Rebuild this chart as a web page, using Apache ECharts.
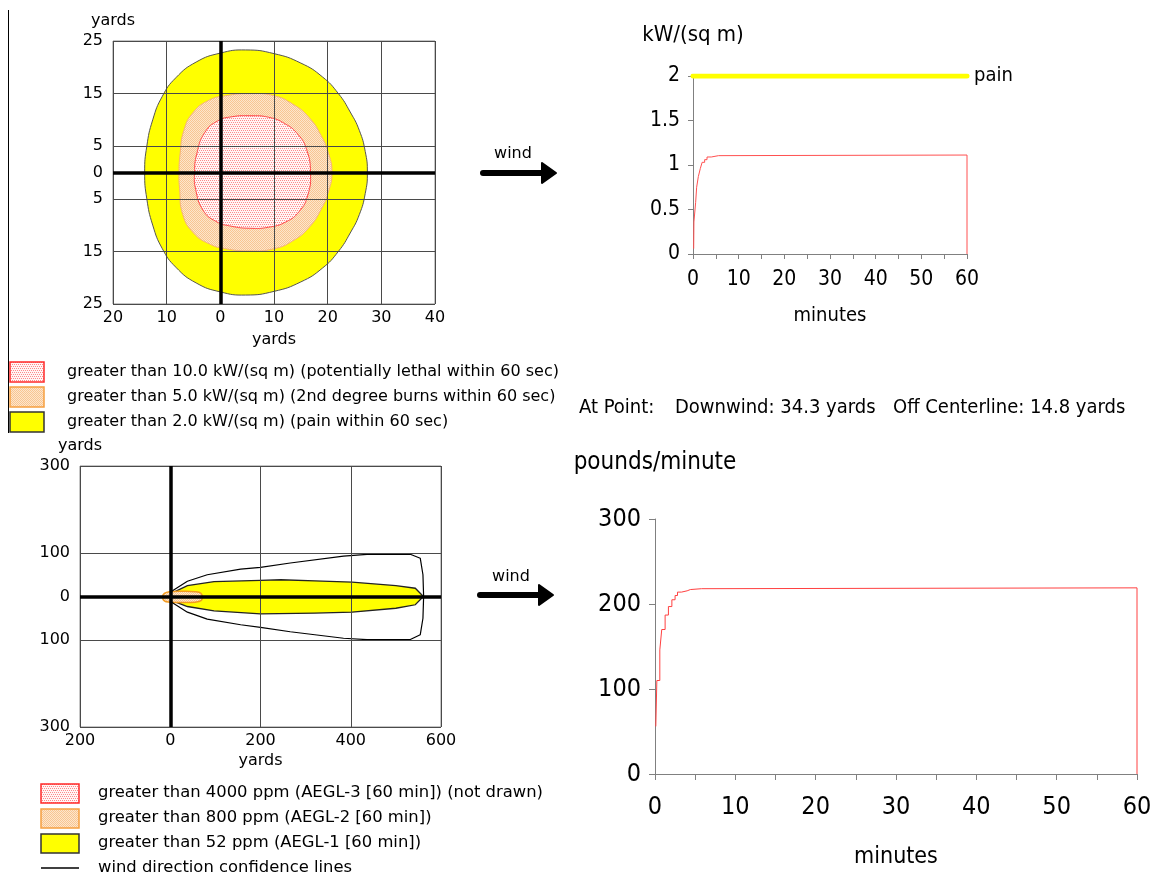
<!DOCTYPE html>
<html><head><meta charset="utf-8">
<script src="https://cdn.jsdelivr.net/npm/echarts@6/dist/echarts.min.js"></script>
<style>html,body{margin:0;padding:0;background:#fff}#main{width:1153px;height:876px}</style>
</head><body><div id="main"></div>
<script>
// ---------------- data ----------------
const thermalLegend = [
  'greater than 10.0 kW/(sq m) (potentially lethal within 60 sec)',
  'greater than 5.0 kW/(sq m) (2nd degree burns within 60 sec)',
  'greater than 2.0 kW/(sq m) (pain within 60 sec)'
];
const toxicLegend = [
  'greater than 4000 ppm (AEGL-3 [60 min]) (not drawn)',
  'greater than 800 ppm (AEGL-2 [60 min])',
  'greater than 52 ppm (AEGL-1 [60 min])',
  'wind direction confidence lines'
];
const pointLabelParts = ['At Point:', 'Downwind: 34.3 yards', 'Off Centerline: 14.8 yards'];

const thermalXTicks = [-20, -10, 0, 10, 20, 30, 40];
const thermalYTicks = [-25, -15, -5, 0, 5, 15, 25];
const plumeXTicks = [-200, 0, 200, 400, 600];
const plumeYTicks = [-300, -100, 0, 100, 300];
const minuteTicks = [0, 10, 20, 30, 40, 50, 60];
const fluxTicks = [0, 0.5, 1, 1.5, 2];
const rateTicks = [0, 100, 200, 300];

// thermal radiation threat zones [yards downwind, yards crosswind]
const painZone = [[4.7,23.3],[10,22.6],[15,20.8],[19,18.2],[22,15],[24.2,11.5],[25.9,8],[27,4],[27.4,0],[27,-4],[25.9,-8],[24.2,-11.5],[22,-15],[19,-18.2],[15,-20.8],[10,-22.6],[4.7,-23.3],[0,-22.7],[-4.5,-21],[-8.3,-18],[-10.8,-14.5],[-12.6,-10],[-13.7,-5],[-14.1,0],[-13.7,5],[-12.6,10],[-10.8,14.5],[-8.3,18],[-4.5,21],[0,22.7]];
const burnZone = [[5.5,15],[10,14.6],[13.5,13],[16.5,10.5],[18.8,7],[20.2,3.5],[20.8,0],[20.2,-3.5],[18.8,-7],[16.5,-10.5],[13.5,-13],[10,-14.5],[5.5,-14.9],[1,-14.5],[-2,-13.6],[-5,-11.5],[-7,-8],[-7.6,-3],[-7.7,0],[-7.5,3.5],[-6.8,8],[-5,11.5],[-2,13.8],[1,14.6]];
const lethalZone = [[5.5,10.8],[9,10.5],[12,9.3],[14.5,7.2],[16.1,4.3],[16.8,0],[16.3,-4.3],[14.7,-7.4],[12.2,-9.4],[9,-10.4],[5.5,-10.6],[2,-10.2],[-0.8,-9.3],[-3.2,-7.2],[-4.6,-3.2],[-4.8,0],[-4.4,3.5],[-2.9,7.6],[-0.5,9.8],[2.2,10.6]];

// toxic plume zones [yards downwind, yards crosswind]
const aegl1Plume = [[0,6],[38,25],[97,34],[200,37],[245,38.5],[320,36],[403,33],[500,25],[543,19],[561,0],[543,-19],[500,-27],[403,-36],[320,-38],[200,-40],[97,-33],[38,-23],[0,-8]];
const aegl2Zone = [[-17,-1],[-13,7],[-2,11],[27,12],[56,11],[68,7.5],[71,-1],[68,-9.5],[56,-13],[27,-14],[-2,-13],[-13,-10]];
const confidenceLines = [[1.5,11],[38,35],[82,50],[156,63],[200,67],[266,77],[384,93],[436,97],[532,97],[554,88],[560,50],[561.5,0],[560,-50],[554,-88],[532,-99],[436,-99],[384,-96],[266,-81],[200,-71],[156,-65],[82,-52],[38,-36],[1.5,-12]];

// time series [minutes, value] (value holds until next point)
const painThreshold = [[0, 2], [60, 2]];
const heatFlux = [[0.15,0.06],[0.2,0.36],[0.58,0.58],[0.8,0.75],[1.17,0.87],[1.6,0.96],[2.0,1.03],[2.55,1.06],[3.07,1.09],[4.0,1.105],[5.6,1.112],[60,0]];
const releaseRate = [[0.1,56],[0.23,110],[0.6,146],[0.84,170],[1.26,187],[1.67,197],[2.1,205],[2.5,210],[2.8,214],[3.3,215.5],[4.0,217],[4.4,218],[5.8,219],[60,0]];

// ---------------- styling ----------------
const FONT_L = '"DejaVu Sans", Verdana, sans-serif';
const FONT_R = '"DejaVu Sans Condensed", "Liberation Sans Narrow", sans-serif';

function makePattern(w, h, base, dots, dotColor) {
  const c = document.createElement('canvas');
  c.width = w; c.height = h;
  const ctx = c.getContext('2d');
  ctx.fillStyle = base; ctx.fillRect(0, 0, w, h);
  ctx.fillStyle = dotColor;
  dots.forEach(d => ctx.fillRect(d[0], d[1], 1, 1));
  return { image: c, repeat: 'repeat' };
}
const redPat = makePattern(4, 4, '#fff6f6', [[0,0],[2,0],[1,2],[3,2]], '#ff8a8a');
const orangePat = makePattern(2, 2, '#fde6cc', [[0,0],[1,1]], '#f8c592');

function polygon(points, xi, yi, fill, stroke, lw, smooth, z) {
  return {
    type: 'custom', xAxisIndex: xi, yAxisIndex: yi, data: [0], z: z, silent: true,
    renderItem: (params, api) => ({
      type: 'polygon',
      shape: { points: points.map(p => api.coord(p)), smooth: smooth },
      style: { fill: fill, stroke: stroke, lineWidth: lw }
    })
  };
}

const absFmt = v => String(Math.abs(v));
const labL = (vals, margin) => ({ customValues: vals, formatter: absFmt, fontSize: 16, color: '#000', fontFamily: FONT_L, margin: margin, showMinLabel: true, showMaxLabel: true });
const nameL = { fontSize: 16, color: '#000', fontFamily: FONT_L };
const txt = (x, y, text, font, align) => ({ type: 'text', x: x, y: y, style: { text: text, font: font, fill: '#000', textAlign: align, align: align, textVerticalAlign: 'middle', verticalAlign: 'middle' } });

const chart = echarts.init(document.getElementById('main'));

const option = {
  animation: false,
  backgroundColor: '#fff',
  grid: [
    { left: 113, top: 41, width: 322, height: 263, show: true, borderColor: '#8c8c8c', borderWidth: 1, outerBoundsMode: 'none' },
    { left: 693, top: 76, width: 274, height: 178, outerBoundsMode: 'none' },
    { left: 80, top: 466, width: 361, height: 261, show: true, borderColor: '#8c8c8c', borderWidth: 1, outerBoundsMode: 'none' },
    { left: 655, top: 519, width: 482, height: 255, outerBoundsMode: 'none' }
  ],
  xAxis: [
    { gridIndex: 0, type: 'value', min: -20, max: 40, interval: 10, z: 5,
      axisLine: { show: false, onZero: false }, axisTick: { show: false },
      splitLine: { lineStyle: { color: '#4a4a4a', width: 1 } },
      axisLabel: labL(thermalXTicks, 6),
      name: 'yards', nameLocation: 'middle', nameGap: 28, nameTextStyle: nameL },
    { gridIndex: 1, type: 'value', min: 0, max: 60, interval: 10,
      axisLine: { onZero: false, lineStyle: { color: '#808080' } },
      axisTick: { length: 5, lineStyle: { color: '#808080' } },
      minorTick: { show: true, splitNumber: 2, length: 5, lineStyle: { color: '#808080' } },
      splitLine: { show: false },
      axisLabel: { customValues: minuteTicks, fontSize: 21, color: '#000', fontFamily: FONT_R, margin: 15 },
      name: 'minutes', nameLocation: 'middle', nameGap: 52, nameTextStyle: { fontSize: 20, color: '#000', fontFamily: FONT_R } },
    { gridIndex: 2, type: 'value', min: -200, max: 600, interval: 200, z: 5,
      axisLine: { show: false, onZero: false }, axisTick: { show: false },
      splitLine: { lineStyle: { color: '#4a4a4a', width: 1 } },
      axisLabel: labL(plumeXTicks, 6),
      name: 'yards', nameLocation: 'middle', nameGap: 26, nameTextStyle: nameL },
    { gridIndex: 3, type: 'value', min: 0, max: 60, interval: 10,
      axisLine: { onZero: false, lineStyle: { color: '#808080' } },
      axisTick: { length: 6, lineStyle: { color: '#808080' } },
      minorTick: { show: true, splitNumber: 2, length: 6, lineStyle: { color: '#808080' } },
      splitLine: { show: false },
      axisLabel: { customValues: minuteTicks, fontSize: 25, color: '#000', fontFamily: FONT_R, margin: 21 },
      name: 'minutes', nameLocation: 'middle', nameGap: 72, nameTextStyle: { fontSize: 23, color: '#000', fontFamily: FONT_R } }
  ],
  yAxis: [
    { gridIndex: 0, type: 'value', min: -25, max: 25, interval: 10, z: 5,
      axisLine: { show: false, onZero: false }, axisTick: { show: false },
      splitLine: { lineStyle: { color: '#4a4a4a', width: 1 } },
      axisLabel: labL(thermalYTicks, 10),
      name: 'yards', nameLocation: 'end', nameGap: 12, nameTextStyle: nameL },
    { gridIndex: 1, type: 'value', min: 0, max: 2, interval: 0.5,
      axisLine: { show: true, onZero: false, lineStyle: { color: '#808080' } },
      axisTick: { show: true, length: 5, lineStyle: { color: '#808080' } },
      splitLine: { show: false },
      axisLabel: { customValues: fluxTicks, fontSize: 21, color: '#000', fontFamily: FONT_R, margin: 13 },
      name: 'kW/(sq m)', nameLocation: 'end', nameGap: 30, nameTextStyle: { fontSize: 22, color: '#000', fontFamily: FONT_R } },
    { gridIndex: 2, type: 'value', min: -300, max: 300, interval: 200, z: 5,
      axisLine: { show: false, onZero: false }, axisTick: { show: false },
      splitLine: { lineStyle: { color: '#4a4a4a', width: 1 } },
      axisLabel: labL(plumeYTicks, 10),
      name: 'yards', nameLocation: 'end', nameGap: 12, nameTextStyle: nameL },
    { gridIndex: 3, type: 'value', min: 0, max: 300, interval: 100,
      axisLine: { show: true, onZero: false, lineStyle: { color: '#808080' } },
      axisTick: { show: true, length: 6, lineStyle: { color: '#808080' } },
      splitLine: { show: false },
      axisLabel: { customValues: rateTicks, fontSize: 25, color: '#000', fontFamily: FONT_R, margin: 14 },
      name: 'pounds/minute', nameLocation: 'end', nameGap: 44, nameTextStyle: { fontSize: 24, color: '#000', fontFamily: FONT_R } }
  ],
  series: [
    // top-left thermal zones
    polygon(painZone, 0, 0, '#ffff00', '#555555', 1, 0.5, 1),
    polygon(burnZone, 0, 0, orangePat, '#f7b27a', 1, 0.5, 2),
    polygon(lethalZone, 0, 0, redPat, '#ff4a4a', 1, 0.5, 3),
    { type: 'line', xAxisIndex: 0, yAxisIndex: 0, data: [], z: 10, silent: true,
      markLine: { silent: true, symbol: 'none', animation: false, label: { show: false },
        lineStyle: { color: '#000', width: 3.5, type: 'solid' },
        data: [{ xAxis: 0 }, { yAxis: 0 }] } },
    // bottom-left plume
    polygon(aegl1Plume, 2, 2, '#ffff00', '#222222', 1.3, 0, 1),
    polygon(aegl2Zone, 2, 2, orangePat, '#f39a1e', 1.5, 0.4, 3),
    { type: 'line', xAxisIndex: 2, yAxisIndex: 2, data: confidenceLines, symbol: 'none', silent: true, z: 4,
      lineStyle: { color: '#000', width: 1.2 } },
    { type: 'line', xAxisIndex: 2, yAxisIndex: 2, data: [], z: 10, silent: true,
      markLine: { silent: true, symbol: 'none', animation: false, label: { show: false },
        lineStyle: { color: '#000', width: 3.5, type: 'solid' },
        data: [{ xAxis: 0 }, { yAxis: 0 }] } },
    // top-right heat flux
    { type: 'line', xAxisIndex: 1, yAxisIndex: 1, data: painThreshold, symbol: 'none', silent: true,
      lineStyle: { color: '#ffff00', width: 5, cap: 'round' },
      endLabel: { show: true, formatter: 'pain', fontSize: 20, color: '#000', fontFamily: FONT_R, distance: 7 } },
    { type: 'line', xAxisIndex: 1, yAxisIndex: 1, data: heatFlux, step: 'end', symbol: 'none', silent: true,
      lineStyle: { color: '#ff5050', width: 1 } },
    // bottom-right release rate
    { type: 'line', xAxisIndex: 3, yAxisIndex: 3, data: releaseRate, step: 'end', symbol: 'none', silent: true,
      lineStyle: { color: '#ff4040', width: 1 } }
  ],
  graphic: [
    { type: 'line', shape: { x1: 8.5, y1: 10, x2: 8.5, y2: 433 }, style: { stroke: '#000', lineWidth: 1 } },
    // wind arrows
    txt(513, 154, 'wind', '16px ' + FONT_L, 'center'),
    { type: 'line', shape: { x1: 483, y1: 173, x2: 544, y2: 173 }, style: { stroke: '#000', lineWidth: 6, lineCap: 'round' } },
    { type: 'polygon', shape: { points: [[542, 163], [556, 173], [542, 183]] }, style: { fill: '#000', stroke: '#000', lineWidth: 2, lineJoin: 'round' } },
    txt(511, 577, 'wind', '16px ' + FONT_L, 'center'),
    { type: 'line', shape: { x1: 480, y1: 595, x2: 540, y2: 595 }, style: { stroke: '#000', lineWidth: 6, lineCap: 'round' } },
    { type: 'polygon', shape: { points: [[539, 585], [553, 595], [539, 605]] }, style: { fill: '#000', stroke: '#000', lineWidth: 2, lineJoin: 'round' } },
    // point text
    txt(579, 408, pointLabelParts[0], '20px ' + FONT_R, 'left'),
    txt(675, 408, pointLabelParts[1], '20px ' + FONT_R, 'left'),
    txt(893, 408, pointLabelParts[2], '20px ' + FONT_R, 'left'),
    // thermal legend
    { type: 'rect', shape: { x: 10, y: 362, width: 34, height: 20 }, style: { fill: redPat, stroke: '#ff2a2a', lineWidth: 1.5 } },
    { type: 'rect', shape: { x: 10, y: 387, width: 34, height: 20 }, style: { fill: orangePat, stroke: '#f6a040', lineWidth: 1.5 } },
    { type: 'rect', shape: { x: 10, y: 412, width: 34, height: 20 }, style: { fill: '#ffff00', stroke: '#333', lineWidth: 1.5 } },
    ...thermalLegend.map((t, i) => txt(67, 372 + i * 25, t, '16px ' + FONT_L, 'left')),
    // toxic legend
    { type: 'rect', shape: { x: 41, y: 784, width: 38, height: 19 }, style: { fill: redPat, stroke: '#ff2a2a', lineWidth: 1.5 } },
    { type: 'rect', shape: { x: 41, y: 809, width: 38, height: 19 }, style: { fill: orangePat, stroke: '#f6a040', lineWidth: 1.5 } },
    { type: 'rect', shape: { x: 41, y: 834, width: 38, height: 19 }, style: { fill: '#ffff00', stroke: '#333', lineWidth: 1.5 } },
    { type: 'line', shape: { x1: 41, y1: 868, x2: 79, y2: 868 }, style: { stroke: '#000', lineWidth: 1.5 } },
    ...toxicLegend.map((t, i) => txt(98, 793 + i * 25, t, '16.4px ' + FONT_L, 'left'))
  ]
};
chart.setOption(option);
</script></body></html>
